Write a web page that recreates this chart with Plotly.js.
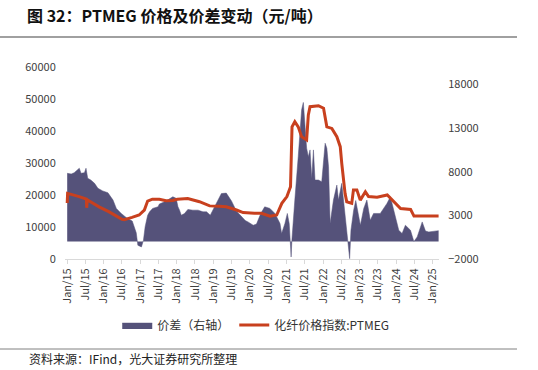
<!DOCTYPE html>
<html>
<head>
<meta charset="utf-8">
<script src="https://cdn.plot.ly/plotly-3.0.1.min.js"></script>
<style>html,body{margin:0;padding:0;background:#fff;}#chart{width:538px;height:370px;}</style>
</head>
<body>
<div id="chart"></div>
<script>
// PTMEG price (left axis, 元/吨)
const priceDates = ["2015-01-01","2015-01-05","2015-05-01","2015-06-28","2015-07-12","2015-07-15","2015-07-20","2015-11-15","2016-02-20","2016-07-01","2016-07-25","2016-10-10","2016-12-20","2017-02-10","2017-03-15","2017-05-01","2017-07-10","2017-09-15","2017-11-22","2018-01-05","2018-04-20","2018-08-15","2018-11-25","2019-03-01","2019-05-10","2019-08-20","2019-10-25","2020-02-15","2020-04-25","2020-07-20","2020-09-25","2020-11-15","2021-01-05","2021-02-10","2021-02-25","2021-03-25","2021-04-28","2021-06-01","2021-07-21","2021-08-07","2021-08-24","2021-11-16","2022-01-06","2022-02-08","2022-03-30","2022-05-19","2022-06-22","2022-07-07","2022-07-24","2022-08-09","2022-08-26","2022-10-15","2022-11-01","2022-12-05","2023-01-08","2023-02-28","2023-04-01","2023-06-25","2023-10-05","2023-12-10","2024-02-15","2024-05-25","2024-06-28","2025-03-01"];
const priceValues = [17500,20500,19500,18900,18700,16000,18500,16300,14800,12400,12300,13000,13750,15300,18100,18700,18650,18200,18300,18650,18900,17900,16600,16500,16300,15300,14500,14300,14300,13400,13750,17400,19500,22600,41300,42900,41300,38200,37200,45000,47600,47900,47100,41300,40800,38200,35100,29900,24700,20500,17900,17400,21600,21600,18400,21000,19500,19300,20000,17900,15800,15500,13400,13400];

// Price spread (right axis, 元/吨)
const spreadDates = ["2015-01-01","2015-02-10","2015-03-12","2015-04-16","2015-05-02","2015-05-19","2015-06-22","2015-07-08","2015-07-25","2015-08-25","2015-10-01","2015-11-04","2015-12-22","2016-02-12","2016-03-16","2016-04-03","2016-05-06","2016-06-24","2016-08-24","2016-10-12","2016-11-21","2016-12-07","2017-01-12","2017-02-01","2017-02-18","2017-03-15","2017-04-03","2017-05-04","2017-06-27","2017-07-10","2017-09-01","2017-10-19","2017-11-22","2017-12-25","2018-01-12","2018-01-28","2018-02-14","2018-03-18","2018-04-21","2018-06-10","2018-08-01","2018-09-19","2018-10-25","2018-12-01","2019-02-01","2019-03-22","2019-05-10","2019-07-01","2019-08-19","2019-10-10","2019-11-16","2019-12-13","2020-02-03","2020-03-07","2020-03-25","2020-04-19","2020-05-28","2020-07-19","2020-09-07","2020-10-28","2020-11-13","2020-12-16","2021-01-09","2021-01-28","2021-02-10","2021-02-16","2021-02-24","2021-03-10","2021-03-25","2021-04-28","2021-06-01","2021-06-18","2021-07-04","2021-07-21","2021-08-07","2021-08-24","2021-09-10","2021-09-27","2021-10-13","2021-11-16","2021-12-19","2022-01-22","2022-02-08","2022-02-25","2022-03-13","2022-04-15","2022-05-19","2022-06-04","2022-07-07","2022-07-31","2022-08-15","2022-09-03","2022-09-15","2022-09-24","2022-10-07","2022-11-03","2022-11-24","2022-12-22","2023-01-09","2023-02-12","2023-03-15","2023-04-18","2023-05-21","2023-07-27","2023-10-02","2023-11-05","2023-12-07","2024-01-28","2024-03-01","2024-04-03","2024-05-24","2024-06-27","2024-07-30","2024-09-18","2024-10-21","2024-11-23","2025-03-01"];
const spreadValues = [7820,7740,7890,8200,8400,7820,7890,8400,7245,7050,6670,6100,5800,5590,5130,4750,3800,3220,2650,2350,1000,-425,-620,150,1700,3000,3400,3800,3980,4300,4550,4950,5130,4950,3980,3600,3020,3200,3680,3600,3600,3400,3400,3020,4370,5500,5550,4650,3500,2830,2400,2250,1870,2000,2600,3220,3980,3800,3220,2070,920,2070,3220,2070,-500,-1770,200,2070,4750,9730,15100,15940,13570,10700,9730,10500,7250,10500,7050,7050,6850,11270,10700,8580,2070,4750,6470,4750,6670,3980,2450,150,-1500,-1960,1300,3600,4700,3020,1870,3800,4750,2450,3220,3220,4370,5130,3600,1300,920,1870,1300,0,530,2250,1200,1100,1250];

const seriesNames = ["价差（右轴）", "化纤价格指数:PTMEG"];
const titleText = "图 32：PTMEG 价格及价差变动（元/吨）";
const sourceText = "资料来源：IFind，光大证券研究所整理";

const FONT = '"Noto Sans CJK SC", "Noto Sans", sans-serif';
const areaColor = '#55527a';
const lineColor = '#c8401e';

const traces = [
  {
    x: spreadDates, y: spreadValues, name: seriesNames[0], type: 'scatter', mode: 'lines',
    fill: 'tozeroy', fillcolor: areaColor, line: {color: areaColor, width: 0.5},
    xaxis: 'x', yaxis: 'y'
  },
  {
    x: priceDates, y: priceValues, name: seriesNames[1], type: 'scatter', mode: 'lines',
    line: {color: lineColor, width: 3},
    xaxis: 'x', yaxis: 'y2'
  }
];

const layout = {
  width: 538, height: 370,
  margin: {l: 65, r: 99, t: 67, b: 111},
  paper_bgcolor: '#fff', plot_bgcolor: '#fff',
  font: {family: FONT, size: 11, color: '#404040'},
  showlegend: true,
  title: {
    text: '<b>' + titleText + '</b>', x: 27/538, xanchor: 'left', xref: 'container',
    y: 1 - 16/370, yanchor: 'middle', yref: 'container',
    font: {family: FONT, size: 16, color: '#111'}
  },
  xaxis: {
    type: 'date', range: ['2014-12-10', '2025-03-05'],
    tick0: '2015-01-01', dtick: 'M6', tickformat: '%b/%y', tickangle: -90,
    showgrid: false, zeroline: false, showline: true, linecolor: '#d9d9d9', linewidth: 1,
    ticks: 'outside', ticklen: 4, tickcolor: '#d9d9d9',
    tickfont: {family: FONT, size: 11, color: '#404040'}
  },
  yaxis: {
    side: 'right', range: [-2000, 20000], tick0: -2000, dtick: 5000, tickformat: 'd',
    showgrid: false, zeroline: false, showline: false,
    ticks: 'outside', ticklen: 6, tickcolor: 'rgba(0,0,0,0)',
    tickfont: {family: FONT, size: 11, color: '#404040'}
  },
  yaxis2: {
    side: 'left', overlaying: 'y', range: [0, 60000], dtick: 10000, tickformat: 'd',
    showgrid: false, zeroline: false, showline: false,
    ticks: 'outside', ticklen: 6, tickcolor: 'rgba(0,0,0,0)',
    tickfont: {family: FONT, size: 11, color: '#404040'}
  },
  legend: {
    orientation: 'h', x: 0.51, xanchor: 'center', y: -0.344, yanchor: 'middle',
    font: {family: FONT, size: 12, color: '#333'}, itemwidth: 30, traceorder: 'normal'
  },
  shapes: [
    {type: 'line', xref: 'paper', yref: 'paper', x0: -65/374, x1: (517-65)/374, y0: (259-37)/192, y1: (259-37)/192, line: {color: '#808080', width: 1.5}},
    {type: 'line', xref: 'paper', yref: 'paper', x0: -65/374, x1: (517-65)/374, y0: (259-349)/192, y1: (259-349)/192, line: {color: '#808080', width: 1}}
  ],
  annotations: [
    {text: sourceText, xref: 'paper', yref: 'paper', x: (27-65)/374, xanchor: 'left', y: (259-358)/192, yanchor: 'middle', showarrow: false, font: {family: FONT, size: 12, color: '#222'}}
  ]
};

Plotly.newPlot('chart', traces, layout, {displayModeBar: false, staticPlot: true});
</script>
</body>
</html>
